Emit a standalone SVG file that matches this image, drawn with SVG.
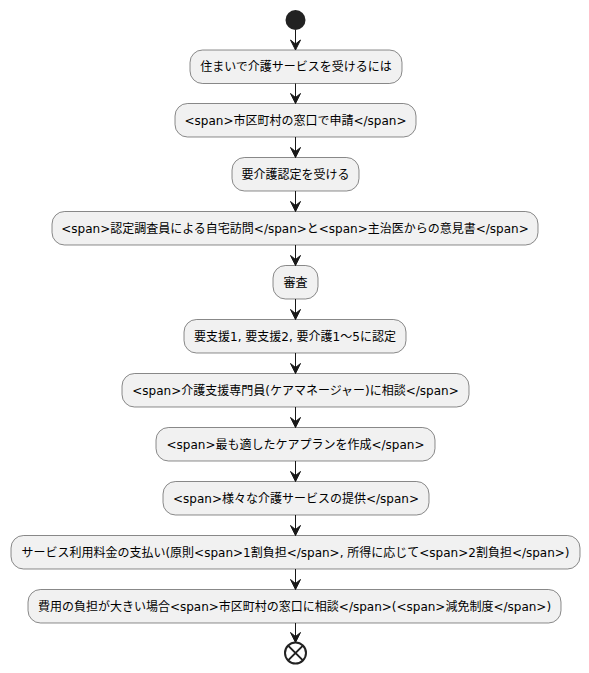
<svg xmlns="http://www.w3.org/2000/svg" width="589" height="673" viewBox="0 0 589 673">
<style>
.box{fill:#F1F1F1;stroke:#181818;stroke-width:0.5}
.t{font-family:"DejaVu Sans","Noto Sans CJK JP",sans-serif;font-size:12px;fill:#000;text-anchor:middle}
.ln{stroke:#181818;stroke-width:1;fill:none}
.ah{fill:#181818;stroke:#181818;stroke-width:1}
</style>
<rect width="589" height="673" fill="#FFFFFF"/>
<g id="start"><circle cx="295.5" cy="20" r="10" fill="#222222"/></g>
<g id="n1"><rect class="box" x="190" y="50" width="212" height="33.5" rx="12.5"/><text class="t" x="296" y="71.3">住まいで介護サービスを受けるには</text></g>
<g id="n2"><rect class="box" x="175" y="103.5" width="241" height="33.5" rx="12.5"/><text class="t" x="295.5" y="124.8">&lt;span&gt;市区町村の窓口で申請&lt;/span&gt;</text></g>
<g id="n3"><rect class="box" x="232" y="157.5" width="127" height="33.5" rx="12.5"/><text class="t" x="295.5" y="178.8">要介護認定を受ける</text></g>
<g id="n4"><rect class="box" x="52" y="211.5" width="486" height="33.5" rx="12.5"/><text class="t" x="295" y="232.8">&lt;span&gt;認定調査員による自宅訪問&lt;/span&gt;と&lt;span&gt;主治医からの意見書&lt;/span&gt;</text></g>
<g id="n5"><rect class="box" x="273" y="265.5" width="45" height="33.5" rx="12.5"/><text class="t" x="295.5" y="286.8">審査</text></g>
<g id="n6"><rect class="box" x="184" y="319.5" width="222" height="33.5" rx="12.5"/><text class="t" x="295" y="340.8">要支援1, 要支援2, 要介護1〜5に認定</text></g>
<g id="n7"><rect class="box" x="122" y="373.5" width="347" height="33.5" rx="12.5"/><text class="t" x="295.5" y="394.8">&lt;span&gt;介護支援専門員(ケアマネージャー)に相談&lt;/span&gt;</text></g>
<g id="n8"><rect class="box" x="156" y="427.5" width="279" height="33.5" rx="12.5"/><text class="t" x="295.5" y="448.8">&lt;span&gt;最も適したケアプランを作成&lt;/span&gt;</text></g>
<g id="n9"><rect class="box" x="163" y="481.5" width="266" height="33.5" rx="12.5"/><text class="t" x="296" y="502.8">&lt;span&gt;様々な介護サービスの提供&lt;/span&gt;</text></g>
<g id="n10"><rect class="box" x="11" y="535.5" width="569" height="33.5" rx="12.5"/><text class="t" x="295.5" y="556.8">サービス利用料金の支払い(原則&lt;span&gt;1割負担&lt;/span&gt;, 所得に応じて&lt;span&gt;2割負担&lt;/span&gt;)</text></g>
<g id="n11"><rect class="box" x="28" y="589.5" width="533" height="33.5" rx="12.5"/><text class="t" x="294.5" y="610.8">費用の負担が大きい場合&lt;span&gt;市区町村の窓口に相談&lt;/span&gt;(&lt;span&gt;減免制度&lt;/span&gt;)</text></g>
<g id="end"><circle cx="295.5" cy="653" r="10.5" fill="none" stroke="#222222" stroke-width="2"/><path d="M288.1 645.6 L302.9 660.4 M302.9 645.6 L288.1 660.4" stroke="#222222" stroke-width="2"/></g>
<g id="connectors">
<path class="ln" d="M295.5 30 V50"/><polygon class="ah" points="290.5,40 295.5,50 300.5,40 295.5,44"/>
<path class="ln" d="M295.5 83.5 V103.5"/><polygon class="ah" points="290.5,93.5 295.5,103.5 300.5,93.5 295.5,97.5"/>
<path class="ln" d="M295.5 137 V157.5"/><polygon class="ah" points="290.5,147.5 295.5,157.5 300.5,147.5 295.5,151.5"/>
<path class="ln" d="M295.5 191 V211.5"/><polygon class="ah" points="290.5,201.5 295.5,211.5 300.5,201.5 295.5,205.5"/>
<path class="ln" d="M295.5 245 V265.5"/><polygon class="ah" points="290.5,255.5 295.5,265.5 300.5,255.5 295.5,259.5"/>
<path class="ln" d="M295.5 299 V319.5"/><polygon class="ah" points="290.5,309.5 295.5,319.5 300.5,309.5 295.5,313.5"/>
<path class="ln" d="M295.5 353 V373.5"/><polygon class="ah" points="290.5,363.5 295.5,373.5 300.5,363.5 295.5,367.5"/>
<path class="ln" d="M295.5 407 V427.5"/><polygon class="ah" points="290.5,417.5 295.5,427.5 300.5,417.5 295.5,421.5"/>
<path class="ln" d="M295.5 461 V481.5"/><polygon class="ah" points="290.5,471.5 295.5,481.5 300.5,471.5 295.5,475.5"/>
<path class="ln" d="M295.5 515 V535.5"/><polygon class="ah" points="290.5,525.5 295.5,535.5 300.5,525.5 295.5,529.5"/>
<path class="ln" d="M295.5 569 V589.5"/><polygon class="ah" points="290.5,579.5 295.5,589.5 300.5,579.5 295.5,583.5"/>
<path class="ln" d="M295.5 623 V642.5"/><polygon class="ah" points="290.5,632.5 295.5,642.5 300.5,632.5 295.5,636.5"/>
</g>
</svg>
